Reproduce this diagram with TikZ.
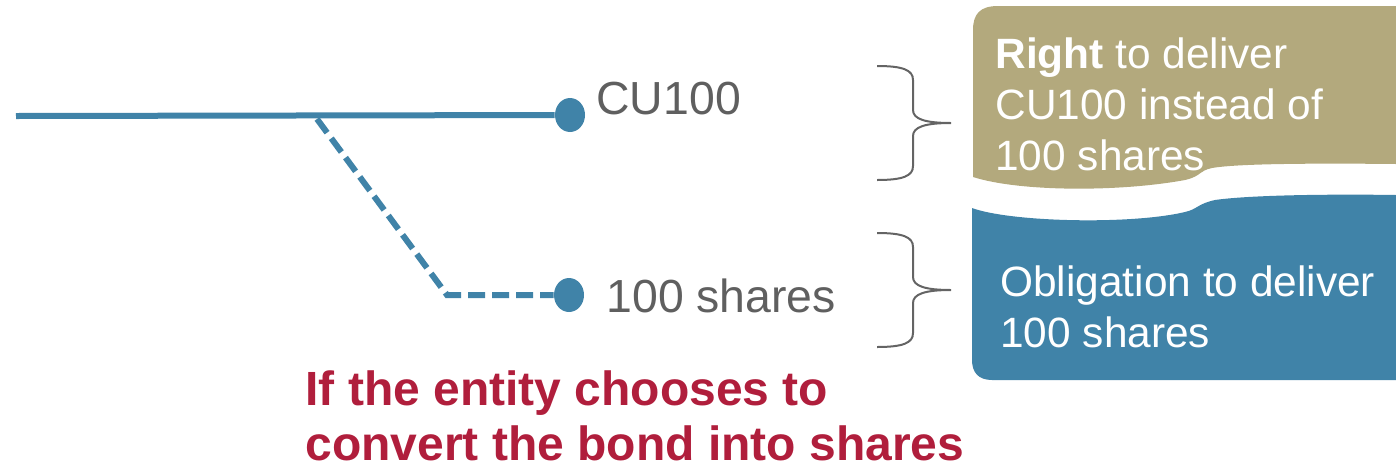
\documentclass[tikz,border=0pt]{standalone}
\usepackage{fontspec}
\setmainfont{Liberation Sans}
\usepackage{xcolor}
\usepackage{tikz}
\usetikzlibrary{shapes.geometric}

\definecolor{bondblue}{RGB}{64,131,168}
\definecolor{righttan}{RGB}{179,169,125}
\definecolor{notered}{RGB}{176,30,60}
\definecolor{labelgray}{RGB}{95,95,95}
\definecolor{bracegray}{RGB}{100,100,100}

\begin{document}
\begin{tikzpicture}[x=0.5pt,y=-0.5pt,
  dot/.style={shape=ellipse,fill=bondblue,minimum width=15pt,minimum height=17pt,inner sep=0pt},
  leg/.style={line width=3pt,draw=bondblue},
  altleg/.style={leg,dash pattern=on 8.5pt off 3.5pt},
  lbl/.style={text=labelgray,font=\fontsize{23.2}{28}\selectfont,inner sep=0pt,anchor=base west},
  boxtext/.style={text=white,align=left,font=\fontsize{21.2}{25.5}\selectfont,inner sep=0pt,anchor=base west},
  note/.style={text=notered,align=left,font=\bfseries\fontsize{24}{27.5}\selectfont,inner sep=0pt,anchor=base west},
  curly/.style={draw=bracegray,line width=1pt}]
\useasboundingbox (0,0) rectangle (1396,467);

% bond payoff lines
\coordinate (start) at (16,116);
\coordinate (fork) at (317,119);
\coordinate (knee) at (447,295);
\node[dot] (cu) at (570,115) {};
\node[dot] (sh) at (569,295) {};
\draw[leg] (start) -- (cu);
\draw[altleg] (fork) -- (knee) -- (sh);
\node[lbl] (cul) at (596,114) {CU100};
\node[lbl] (shl) at (606,312) {100 shares};

% braces
\foreach \dy in {0,167}
  \draw[curly,shift={(0,\dy)}] (877,66) .. controls (903,66) and (913,70) .. (913,80) -- (913,110)
    .. controls (913,119) and (925,123) .. (951,123) .. controls (925,123) and (913,127) .. (913,136)
    -- (913,166) .. controls (913,176) and (903,180) .. (877,180);

% right and obligation boxes
\fill[righttan] (973,177) -- (973,30) .. controls (973,14) and (980,6) .. (998,6) -- (1396,6) -- (1396,164)
  .. controls (1300,163) and (1235,164) .. (1212,168) .. controls (1198,171) and (1202,176) .. (1185,180)
  .. controls (1120,192) and (1020,192) .. (973,177) -- cycle;
\fill[bondblue] (972,208) .. controls (1010,222) and (1130,225) .. (1185,212)
  .. controls (1198,209) and (1197,204) .. (1215,200) .. controls (1250,195) and (1330,194) .. (1396,195)
  -- (1396,380) -- (992,380) .. controls (978,380) and (972,372) .. (972,360) -- cycle;
\node[boxtext] (right) at (995,170) {\textbf{Right} to deliver\\CU100 instead of\\100 shares};
\node[boxtext] (oblig) at (1000,347) {Obligation to deliver\\100 shares};

\node[note] (choice) at (305,460) {If the entity chooses to\\convert the bond into shares};
\end{tikzpicture}
\end{document}
